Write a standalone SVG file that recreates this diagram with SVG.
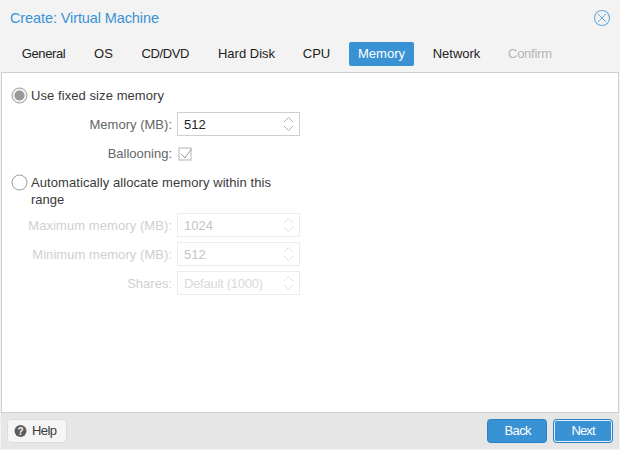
<svg xmlns="http://www.w3.org/2000/svg" width="620" height="450" viewBox="0 0 620 450">
<style>
text{font-family:"Liberation Sans",Arial,sans-serif;font-size:13px;fill:#3a3a3a}
.tab{fill:#222;text-anchor:middle}
.lbl{fill:#666;text-anchor:end}
.dis{fill:#d0d0d0;text-anchor:end}
.dv{fill:#c4c4c4}
.field{fill:#fff;stroke:#cfcfcf}
.fdis{fill:#fff;stroke:#ececec}
.spin{fill:none;stroke:#b5b5b5}
.spind{fill:none;stroke:#e0e0e0}
.btn{fill:#3892d4;stroke:#2a80c4}
.bt{fill:#fff;text-anchor:middle}
</style>
<rect id="window" width="620" height="450" fill="#f3f3f3"/>
<text id="title" x="10" y="23" textLength="149" style="font-size:14.5px;fill:#3892d4">Create: Virtual Machine</text>
<g id="close" fill="none" stroke="#6ba9dc">
<circle cx="602" cy="18" r="7.5" stroke-width="1.1"/>
<path d="M598 14l8 8M606 14l-8 8"/>
</g>
<g id="tabs">
<text class="tab" x="43.7" y="58" textLength="44">General</text>
<text class="tab" x="103.500" y="58">OS</text>
<text class="tab" x="165.500" y="58" textLength="48">CD/DVD</text>
<text class="tab" x="246.500" y="58">Hard Disk</text>
<text class="tab" x="316.500" y="58">CPU</text>
<g id="tab-memory"><rect x="349" y="42" width="65" height="24" rx="2" fill="#3892d4"/><text class="tab" x="381.500" y="58" textLength="47" style="fill:#fff">Memory</text></g>
<text class="tab" x="456.500" y="58">Network</text>
<text class="tab" x="530" y="58" textLength="44" style="fill:#b5b5b5">Confirm</text>
</g>
<rect id="panel" x="1.500" y="72.500" width="617" height="340" fill="#fff" stroke="#cfcfcf"/>
<rect id="footer" x="1" y="413" width="618" height="36" fill="#e6e6e6"/>
<g id="opt-fixed">
<circle cx="19.500" cy="95.500" r="7.500" fill="#f2f2f2" stroke="#9a9a9a"/>
<circle cx="19.500" cy="95.500" r="5" fill="#999"/>
<text x="31" y="100" textLength="133">Use fixed size memory</text>
</g>
<g id="memory">
<text class="lbl" x="172" y="129" textLength="82.500">Memory (MB):</text>
<rect class="field" x="177.500" y="112.500" width="122" height="23"/>
<text x="184" y="129" style="fill:#222">512</text>
<path class="spin" d="M284 122l4.500-4.500 4.500 4.500M284 126l4.500 4.500 4.500-4.500"/>
</g>
<g id="ballooning">
<text class="lbl" x="172" y="158">Ballooning:</text>
<rect x="179" y="148" width="12" height="12" fill="#fff" stroke="#b5b5b5"/>
<path d="M181 154l4 4 6.500-9" fill="none" stroke="#9a9a9a"/>
</g>
<g id="opt-auto">
<circle cx="19.500" cy="182.500" r="7.500" fill="#fff" stroke="#9a9a9a"/>
<text x="31" y="187" textLength="240">Automatically allocate memory within this</text>
<text x="31" y="204">range</text>
</g>
<g id="maxmem">
<text class="dis" x="172" y="230" textLength="143.700">Maximum memory (MB):</text>
<rect class="fdis" x="177.500" y="213.500" width="122" height="23"/>
<text class="dv" x="184" y="230">1024</text>
<path class="spind" d="M284 223l4.500-4.500 4.500 4.500M284 227l4.500 4.500 4.500-4.500"/>
</g>
<g id="minmem">
<text class="dis" x="172" y="259" textLength="139.700">Minimum memory (MB):</text>
<rect class="fdis" x="177.500" y="242.500" width="122" height="23"/>
<text class="dv" x="184" y="259">512</text>
<path class="spind" d="M284 252l4.500-4.500 4.500 4.500M284 256l4.500 4.500 4.500-4.500"/>
</g>
<g id="shares">
<text class="dis" x="172" y="288">Shares:</text>
<rect class="fdis" x="177.500" y="271.500" width="122" height="23"/>
<text x="184" y="288" textLength="79" style="fill:#dadada">Default (1000)</text>
<path class="spind" d="M284 281l4.500-4.500 4.500 4.500M284 285l4.500 4.500 4.500-4.500"/>
</g>
<g id="help">
<rect x="7.500" y="419.500" width="59" height="23" rx="3" fill="#f5f5f5" stroke="#dcdcdc"/>
<circle cx="20.500" cy="431" r="6" fill="#5c5c5c"/>
<text x="20.500" y="435" style="font-size:10px;font-weight:bold;fill:#f5f5f5;text-anchor:middle">?</text>
<text x="32" y="435" textLength="25">Help</text>
</g>
<g id="back">
<rect class="btn" x="487.500" y="419.500" width="59" height="23" rx="3"/>
<text class="bt" x="518" y="435" textLength="27">Back</text>
</g>
<g id="next">
<rect class="btn" x="553.500" y="419.500" width="59" height="23" rx="3"/>
<rect x="554.500" y="420.500" width="57" height="21" rx="2" fill="none" stroke="#e6f2fb"/>
<text class="bt" x="583.500" y="435" textLength="24">Next</text>
</g>
</svg>
